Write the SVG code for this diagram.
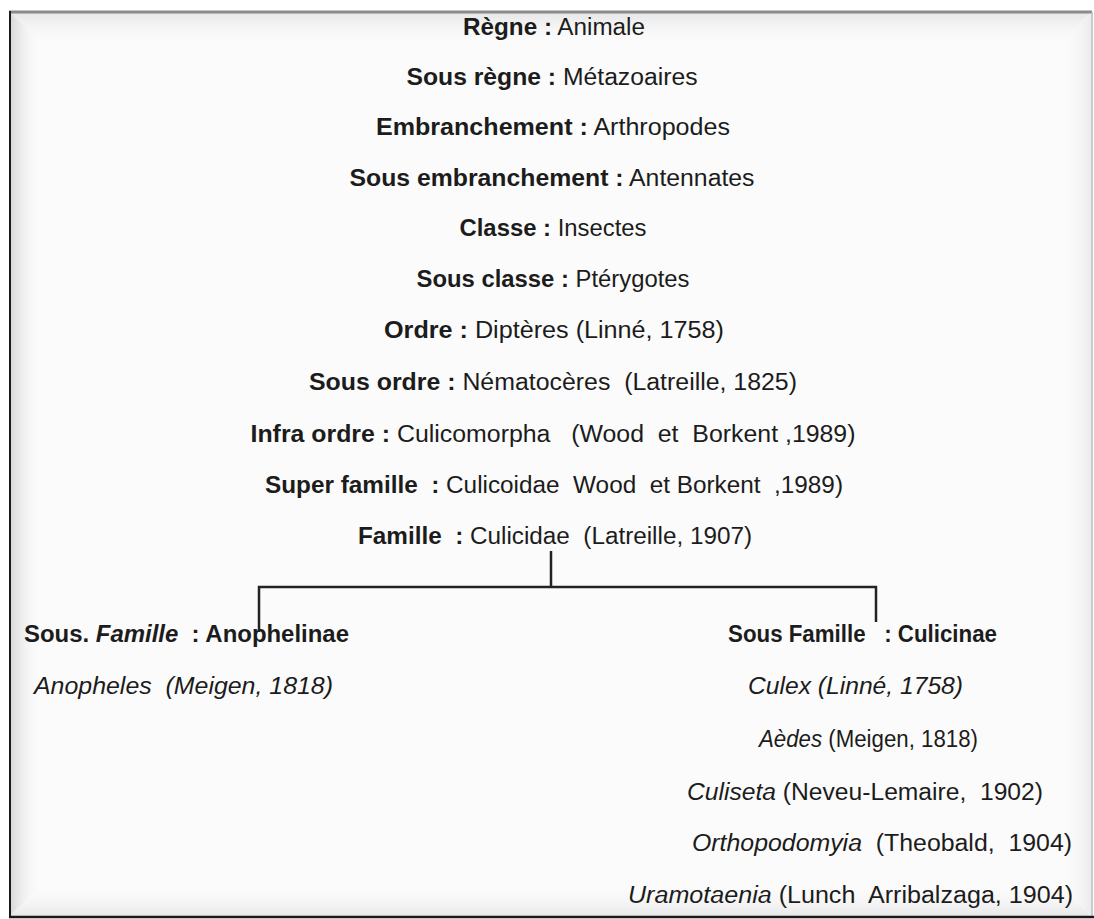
<svg xmlns="http://www.w3.org/2000/svg" width="1094" height="919" viewBox="0 0 1094 919">
<defs>
<linearGradient id="bevL" x1="0" y1="0" x2="1" y2="0">
<stop offset="0" stop-color="#d8d8d8"/>
<stop offset="1" stop-color="#fbfbfb" stop-opacity="0"/>
</linearGradient>
<linearGradient id="bevT" x1="0" y1="0" x2="0" y2="1">
<stop offset="0" stop-color="#e4e4e4"/>
<stop offset="1" stop-color="#fbfbfb" stop-opacity="0"/>
</linearGradient>
<linearGradient id="bevB" x1="0" y1="1" x2="0" y2="0">
<stop offset="0" stop-color="#e8e8e8"/>
<stop offset="1" stop-color="#fbfbfb" stop-opacity="0"/>
</linearGradient>
<linearGradient id="bevR" x1="1" y1="0" x2="0" y2="0">
<stop offset="0" stop-color="#ececec"/>
<stop offset="1" stop-color="#fbfbfb" stop-opacity="0"/>
</linearGradient>
</defs>
<style>
text{font-family:"Liberation Sans",Arial,sans-serif;font-size:23px;fill:#1c1c1c}
.b{font-weight:bold}
.i{font-style:italic}
.c{text-anchor:middle}
.conn{stroke:#222;stroke-width:2.5;fill:none}
</style>
<rect x="0" y="0" width="1094" height="919" fill="#ffffff"/>
<g id="frame">
<rect x="10" y="12" width="1081" height="904" fill="#fbfbfb"/>
<polygon points="10,12 42,44 42,884 10,916" fill="url(#bevL)"/>
<polygon points="10,12 1091,12 1059,44 42,44" fill="url(#bevT)"/>
<polygon points="10,916 42,884 1059,884 1091,916" fill="url(#bevB)"/>
<polygon points="1091,12 1091,916 1059,884 1059,44" fill="url(#bevR)"/>
<line x1="9" y1="12" x2="1092" y2="12" stroke="#8a8a8a" stroke-width="3"/>
<line x1="10" y1="11" x2="10" y2="918" stroke="#1a1a1a" stroke-width="2"/>
<line x1="1092" y1="12" x2="1092" y2="917" stroke="#b8b8b8" stroke-width="1.5"/>
<line x1="9" y1="917" x2="1094" y2="917" stroke="#1a1a1a" stroke-width="2.5"/>
</g>
<g id="connectors">
<path class="conn" d="M551,551 V587"/>
<path class="conn" d="M259,632 V587 H876 V622"/>
</g>
<g id="regne"><text x="554" y="35" class="c" textLength="182" lengthAdjust="spacingAndGlyphs"><tspan class="b">Règne :</tspan> Animale</text></g>
<g id="sous-regne"><text x="552" y="85" class="c" textLength="291" lengthAdjust="spacingAndGlyphs"><tspan class="b">Sous règne :</tspan> Métazoaires</text></g>
<g id="embranchement"><text x="553" y="135" class="c" textLength="354" lengthAdjust="spacingAndGlyphs"><tspan class="b">Embranchement :</tspan> Arthropodes</text></g>
<g id="sous-embranchement"><text x="552" y="186" class="c" textLength="405" lengthAdjust="spacingAndGlyphs"><tspan class="b">Sous embranchement :</tspan> Antennates</text></g>
<g id="classe"><text x="553" y="236" class="c" textLength="187" lengthAdjust="spacingAndGlyphs"><tspan class="b">Classe :</tspan> Insectes</text></g>
<g id="sous-classe"><text x="553" y="287" class="c" textLength="273" lengthAdjust="spacingAndGlyphs"><tspan class="b">Sous classe :</tspan> Ptérygotes</text></g>
<g id="ordre"><text x="554" y="338" class="c" textLength="340" lengthAdjust="spacingAndGlyphs"><tspan class="b">Ordre :</tspan> Diptères (Linné, 1758)</text></g>
<g id="sous-ordre"><text x="553" y="390" class="c" textLength="488" lengthAdjust="spacingAndGlyphs" xml:space="preserve"><tspan class="b">Sous ordre :</tspan> Nématocères  (Latreille, 1825)</text></g>
<g id="infra-ordre"><text x="553" y="442" class="c" textLength="605" lengthAdjust="spacingAndGlyphs" xml:space="preserve"><tspan class="b">Infra ordre :</tspan> Culicomorpha   (Wood  et  Borkent ,1989)</text></g>
<g id="super-famille"><text x="554" y="493" class="c" textLength="578" lengthAdjust="spacingAndGlyphs" xml:space="preserve"><tspan class="b">Super famille  :</tspan> Culicoidae  Wood  et Borkent  ,1989)</text></g>
<g id="famille"><text x="555" y="544" class="c" textLength="394" lengthAdjust="spacingAndGlyphs" xml:space="preserve"><tspan class="b">Famille  :</tspan> Culicidae  (Latreille, 1907)</text></g>
<g id="anophelinae"><text x="24" y="642" textLength="325" lengthAdjust="spacingAndGlyphs" class="b" xml:space="preserve">Sous. <tspan class="i">Famille</tspan>  : Anophelinae</text></g>
<g id="anopheles"><text x="34" y="694" textLength="299" lengthAdjust="spacingAndGlyphs" class="i" xml:space="preserve">Anopheles  (Meigen, 1818)</text></g>
<g id="culicinae"><text x="728" y="642" textLength="269" lengthAdjust="spacingAndGlyphs" class="b" xml:space="preserve">Sous Famille   : Culicinae</text></g>
<g id="culex"><text x="748" y="694" textLength="215" lengthAdjust="spacingAndGlyphs" class="i">Culex (Linné, 1758)</text></g>
<g id="aedes"><text x="759" y="747" textLength="219" lengthAdjust="spacingAndGlyphs"><tspan class="i">Aèdes</tspan> (Meigen, 1818)</text></g>
<g id="culiseta"><text x="687" y="800" textLength="356" lengthAdjust="spacingAndGlyphs" xml:space="preserve"><tspan class="i">Culiseta</tspan> (Neveu-Lemaire,  1902)</text></g>
<g id="orthopodomyia"><text x="692" y="851" textLength="380" lengthAdjust="spacingAndGlyphs" xml:space="preserve"><tspan class="i">Orthopodomyia</tspan>  (Theobald,  1904)</text></g>
<g id="uramotaenia"><text x="628" y="903" textLength="445" lengthAdjust="spacingAndGlyphs" xml:space="preserve"><tspan class="i">Uramotaenia</tspan> (Lunch  Arribalzaga, 1904)</text></g>
</svg>
